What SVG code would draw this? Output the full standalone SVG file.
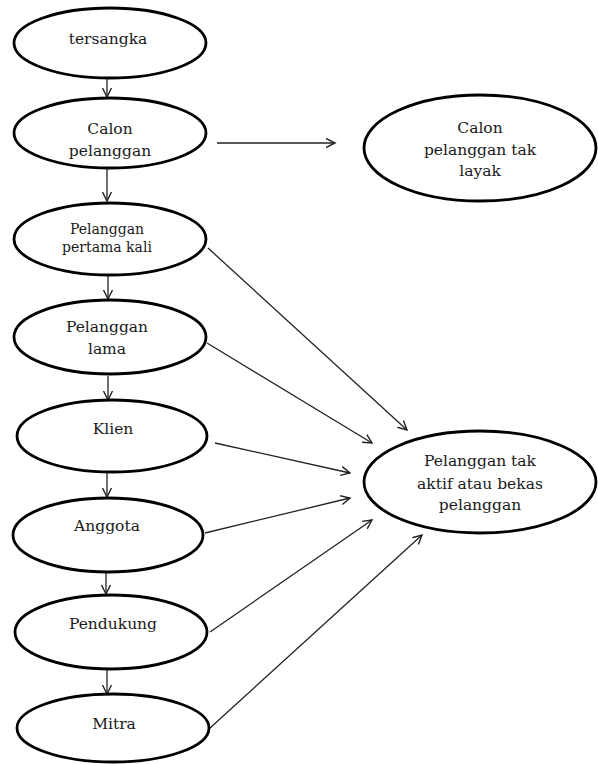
<svg xmlns="http://www.w3.org/2000/svg" width="598" height="764" viewBox="0 0 598 764">
<defs>
<marker id="ah" markerUnits="userSpaceOnUse" markerWidth="12" markerHeight="12" refX="9" refY="5" orient="auto" viewBox="0 0 12 10">
<path d="M0,0.5 L9,5 L0,9.5" fill="none" stroke="#222" stroke-width="1.4"/>
</marker>
</defs>
<style>
.n ellipse{fill:#fff;stroke:#000;stroke-width:2.8}
.n text{font-family:"DejaVu Serif","Liberation Serif",serif;font-size:15.5px;fill:#1a1a1a;text-anchor:middle;dominant-baseline:middle}
.n text.s{font-size:14px}
#edges line{stroke:#222;stroke-width:1.3;marker-end:url(#ah)}
</style>
<rect width="598" height="764" fill="#fff"/>
<g id="edges">
<line x1="107" y1="79" x2="107" y2="97"/>
<line x1="107" y1="169" x2="107" y2="201"/>
<line x1="108" y1="276" x2="108" y2="299"/>
<line x1="108" y1="376" x2="108" y2="400"/>
<line x1="107" y1="473" x2="107" y2="497"/>
<line x1="106" y1="572" x2="106" y2="594"/>
<line x1="107" y1="670" x2="107" y2="694"/>
<line x1="217" y1="143" x2="335" y2="143"/>
<line x1="208" y1="248" x2="407" y2="430"/>
<line x1="207" y1="343" x2="372" y2="443"/>
<line x1="215" y1="443" x2="350" y2="473"/>
<line x1="205" y1="533" x2="350" y2="498"/>
<line x1="210" y1="632" x2="372" y2="520"/>
<line x1="210" y1="728" x2="422" y2="535"/>
</g>
<g id="tersangka" class="n"><ellipse cx="110" cy="43" rx="96" ry="35"/><text x="108" y="40">tersangka</text></g>
<g id="calon" class="n"><ellipse cx="110" cy="133" rx="96" ry="35"/><text x="110" y="130">Calon</text><text x="110" y="152">pelanggan</text></g>
<g id="pertama" class="n"><ellipse cx="110" cy="239" rx="96" ry="36"/><text class="s" x="107" y="230">Pelanggan</text><text class="s" x="107" y="248">pertama kali</text></g>
<g id="lama" class="n"><ellipse cx="110" cy="337" rx="96" ry="37"/><text x="107" y="328">Pelanggan</text><text x="107" y="350">lama</text></g>
<g id="klien" class="n"><ellipse cx="112" cy="436" rx="95" ry="36"/><text x="113" y="430">Klien</text></g>
<g id="anggota" class="n"><ellipse cx="108" cy="535" rx="95" ry="37"/><text x="107" y="527">Anggota</text></g>
<g id="pendukung" class="n"><ellipse cx="111" cy="632" rx="96" ry="37"/><text x="113" y="625">Pendukung</text></g>
<g id="mitra" class="n"><ellipse cx="113" cy="728" rx="96" ry="34"/><text x="114" y="725">Mitra</text></g>
<g id="taklayak" class="n"><ellipse cx="480" cy="148" rx="116" ry="53"/><text x="480" y="129">Calon</text><text x="480" y="151">pelanggan tak</text><text x="480" y="172">layak</text></g>
<g id="bekas" class="n"><ellipse cx="480" cy="482" rx="116" ry="51"/><text x="480" y="462">Pelanggan tak</text><text x="480" y="485">aktif atau bekas</text><text x="480" y="506">pelanggan</text></g>
</svg>
